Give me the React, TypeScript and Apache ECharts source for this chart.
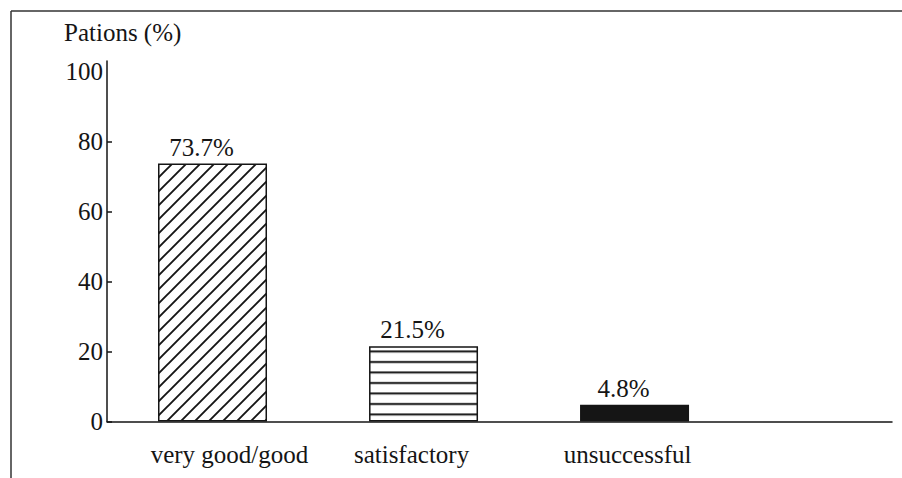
import React, { useEffect, useRef } from "react";
import * as echarts from "echarts";

const categories = ["very good/good", "satisfactory", "unsuccessful"];
const values = [73.7, 21.5, 4.8];
const yTickValues = [0, 20, 40, 60, 80, 100];
const yTickMarks = [0, 20, 40, 60, 80];
const yAxisTitle = "Pations (%)";

const FONT = "'Liberation Serif', 'Times New Roman', serif";
const INK = "#151515";

function svgUrl(svg: string) {
  return "data:image/svg+xml;charset=utf-8," + encodeURIComponent(svg);
}

const diagTile = svgUrl(
  `<svg xmlns="http://www.w3.org/2000/svg" width="14" height="14"><rect width="14" height="14" fill="#fff"/><path d="M-3.5,3.5 L3.5,-3.5 M0,14 L14,0 M10.5,17.5 L17.5,10.5" stroke="${INK}" stroke-width="1.9"/></svg>`
);
const horizTile = svgUrl(
  `<svg xmlns="http://www.w3.org/2000/svg" width="10" height="10.5"><rect width="10" height="10.5" fill="#fff"/><path d="M0,5 L10,5" stroke="${INK}" stroke-width="2"/></svg>`
);

export default function App() {
  const ref = useRef<HTMLDivElement>(null);
  useEffect(() => {
    document.body.style.margin = "0";
    const chart = echarts.init(ref.current!, null, { renderer: "svg" });
    const fills: any[] = [
      { image: diagTile, repeat: "repeat", imageWidth: 14, imageHeight: 14 },
      { image: horizTile, repeat: "repeat", imageWidth: 10, imageHeight: 10.5 },
      INK,
    ];
    const labelRich: any = {
      c0: { fontFamily: FONT, fontSize: 25, color: INK, padding: [0, 0, 0, 34] },
      c1: { fontFamily: FONT, fontSize: 25, color: INK, padding: [0, 24, 0, 0] },
      c2: { fontFamily: FONT, fontSize: 25, color: INK, padding: [0, 14, 0, 0] },
    };
    chart.setOption({
      animation: false,
      backgroundColor: "#fff",
      textStyle: { fontFamily: FONT, color: INK },
      title: {
        text: yAxisTitle,
        left: 59,
        top: 15,
        textStyle: { fontFamily: FONT, fontSize: 25, fontWeight: "normal", color: INK },
      },
      grid: { left: 107, top: 61, right: 10, bottom: 56.5, containLabel: false },
      xAxis: {
        type: "value",
        min: -0.5,
        max: 3.22,
        axisLine: { show: true, onZero: false, lineStyle: { color: INK, width: 1.5 } },
        axisTick: { show: false },
        splitLine: { show: false },
        axisLabel: {
          customValues: [0, 1, 2],
          formatter: (v: number) => {
            const i = Math.round(v);
            return categories[i] ? `{c${i}|${categories[i]}}` : "";
          },
          rich: labelRich,
          fontFamily: FONT,
          fontSize: 25,
          color: INK,
          margin: 20,
        },
      },
      yAxis: {
        type: "value",
        min: 0,
        max: 103,
        interval: 20,
        axisLine: { show: true, onZero: false, lineStyle: { color: INK, width: 1.5 } },
        axisTick: {
          show: true,
          inside: true,
          length: 5,
          customValues: yTickMarks,
          lineStyle: { color: INK, width: 1.5 },
        },
        splitLine: { show: false },
        axisLabel: {
          customValues: yTickValues,
          fontFamily: FONT,
          fontSize: 25,
          color: INK,
          margin: 4,
        },
      },
      graphic: [
        { type: "line", shape: { x1: 11, y1: 11, x2: 902, y2: 11 }, style: { stroke: "#333", lineWidth: 1.5 } },
        { type: "line", shape: { x1: 11, y1: 11, x2: 11, y2: 478 }, style: { stroke: "#333", lineWidth: 1.5 } },
      ],
      series: [
        {
          type: "bar",
          barWidth: 109,
          data: values.map((v, i) => ({
            value: [i, v],
            itemStyle: { color: fills[i], borderColor: INK, borderWidth: 1.5 },
          })),
          label: {
            show: true,
            position: "top",
            distance: 4,
            offset: [-11, 0],
            formatter: (p: any) => `${p.value[1]}%`,
            fontFamily: FONT,
            fontSize: 25,
            color: INK,
          },
        },
      ],
    });
    return () => chart.dispose();
  }, []);
  return <div ref={ref} style={{ width: 902, height: 478 }} />;
}
